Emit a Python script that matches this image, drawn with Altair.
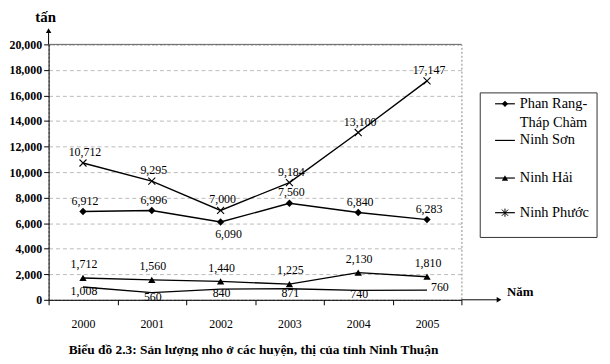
import altair as alt
import pandas as pd

years = ["2000", "2001", "2002", "2003", "2004", "2005"]
series_names = ["Phan Rang-Tháp Chàm", "Ninh Sơn", "Ninh Hải", "Ninh Phước"]
phan_rang = [6912, 6996, 6090, 7560, 6840, 6283]
ninh_son = [1008, 560, 840, 871, 740, 760]
ninh_hai = [1712, 1560, 1440, 1225, 2130, 1810]
ninh_phuoc = [10712, 9295, 7000, 9184, 13100, 17147]
y_ticks = list(range(0, 20001, 2000))
y_max = [20000]

rows = []
for name, vals in zip(series_names, [phan_rang, ninh_son, ninh_hai, ninh_phuoc]):
    for yr, v in zip(years, vals):
        rows.append({"year": yr, "series": name, "value": v})
df = pd.DataFrame(rows)

FONT = "Liberation Serif"
W, H = 417, 258

xenc = alt.X("year:O", bandPosition=0.5,
             scale=alt.Scale(type="band", paddingInner=0, paddingOuter=0, domain=years),
             axis=alt.Axis(title=None, tickBand="extent", tickSize=5, labelPadding=14,
                           labelFont=FONT, labelFontSize=12, labelAngle=0,
                           domainColor="black", tickColor="black", labelColor="black", grid=False))
yenc = alt.Y("value:Q", scale=alt.Scale(domain=[0, 20000], nice=False),
             axis=alt.Axis(title=None, values=y_ticks, format=",d", tickSize=5,
                           labelFont=FONT, labelFontSize=12, labelFontWeight="bold",
                           labelColor="black", domainColor="black", tickColor="black",
                           labelOverlap=False,
                           grid=True, gridColor="#aaaaaa", gridDash=[4, 3], gridWidth=0.8))

base = alt.Chart(df)

lines = base.mark_line(color="black", strokeWidth=1.4).encode(
    x=xenc, y=yenc, detail="series:N")

pts_pr = base.transform_filter(alt.datum.series == "Phan Rang-Tháp Chàm").mark_point(
    shape="diamond", filled=True, color="black", size=55, opacity=1).encode(x=xenc, y=yenc)
pts_nh = base.transform_filter(alt.datum.series == "Ninh Hải").mark_point(
    shape="triangle-up", filled=True, color="black", size=55, opacity=1).encode(x=xenc, y=yenc)
pts_np = base.transform_filter(alt.datum.series == "Ninh Phước").mark_point(
    shape="M-1,-1L1,1M-1,1L1,-1", filled=False, color="black", size=50, strokeWidth=1.1,
    opacity=1).encode(x=xenc, y=yenc)

def labels(filt, dx=0, dy=-10):
    return base.transform_filter(filt).mark_text(
        font=FONT, fontSize=12, color="black", dx=dx, dy=dy).encode(
        x=xenc, y=yenc, text=alt.Text("value:Q", format=","))

lab_np = labels("datum.series == 'Ninh Phước'", dx=2, dy=-11)
lab_pr = labels("datum.series == 'Phan Rang-Tháp Chàm' && datum.year != '2002'", dx=2, dy=-11)
lab_pr2 = labels("datum.series == 'Phan Rang-Tháp Chàm' && datum.year == '2002'", dx=8, dy=12)
lab_nh = labels("datum.series == 'Ninh Hải'", dx=1, dy=-14)
lab_ns = labels("datum.series == 'Ninh Sơn' && datum.year != '2005'", dx=1, dy=4)
lab_ns2 = labels("datum.series == 'Ninh Sơn' && datum.year == '2005'", dx=13, dy=-3)

top_rule = alt.Chart(pd.DataFrame({"value": y_max})).mark_rule(color="#666", strokeWidth=1).encode(
    y=yenc)

one = pd.DataFrame({"a": [0]})
# axis arrows
y_arrow = alt.Chart(one).mark_rule(color="black").encode(
    x=alt.value(0), y=alt.value(0), y2=alt.value(-14))
y_head = alt.Chart(one).mark_point(shape="triangle-up", filled=True, color="black", size=30,
                                   opacity=1).encode(x=alt.value(0), y=alt.value(-14))
x_arrow = alt.Chart(one).mark_rule(color="black").encode(
    x=alt.value(W), x2=alt.value(455), y=alt.value(H))
x_head = alt.Chart(one).mark_point(shape="triangle-right", filled=True, color="black", size=30,
                                   opacity=1).encode(x=alt.value(455), y=alt.value(H))
y_title = alt.Chart(one).mark_text(text="tấn", font=FONT, fontSize=15, fontWeight="bold",
                                   color="black").encode(x=alt.value(-3), y=alt.value(-28))
x_title = alt.Chart(one).mark_text(text="Năm", font=FONT, fontSize=13, fontWeight="bold",
                                   color="black", align="left").encode(x=alt.value(463), y=alt.value(250))
caption = alt.Chart(one).mark_text(
    text="Biểu đồ 2.3: Sản lượng nho ở các huyện, thị của tỉnh Ninh Thuận",
    font=FONT, fontSize=13.5, fontWeight="bold", color="black").encode(
    x=alt.value(207), y=alt.value(309))

# legend
leg_box = alt.Chart(one).mark_rect(fill="white", stroke="#333", strokeWidth=1).encode(
    x=alt.value(436), x2=alt.value(554), y=alt.value(49), y2=alt.value(195))
leg_layers = [leg_box]
leg_y = [60, 97, 135, 170]
leg_shapes = ["diamond", None, "triangle-up", "M-1,-1L1,1M-1,1L1,-1M0,-1.3L0,1.3"]
for yy, shp in zip(leg_y, leg_shapes):
    leg_layers.append(alt.Chart(one).mark_rule(color="black", strokeWidth=1.2).encode(
        x=alt.value(451), x2=alt.value(471), y=alt.value(yy)))
    if shp is not None:
        filled = shp in ("diamond", "triangle-up")
        leg_layers.append(alt.Chart(one).mark_point(
            shape=shp, filled=filled, color="black", size=40, opacity=1, strokeWidth=1).encode(
            x=alt.value(461), y=alt.value(yy)))
leg_texts = [("Phan Rang-", 60), ("Tháp Chàm", 79), ("Ninh Sơn", 97), ("Ninh Hải", 135), ("Ninh Phước", 170)]
for t, yy in leg_texts:
    leg_layers.append(alt.Chart(one).mark_text(
        text=t, font=FONT, fontSize=14.5, color="black", align="left").encode(
        x=alt.value(476), y=alt.value(yy)))

chart = alt.layer(
    top_rule, lines, pts_pr, pts_nh, pts_np,
    lab_np, lab_pr, lab_pr2, lab_nh, lab_ns, lab_ns2,
    y_arrow, y_head, x_arrow, x_head, y_title, x_title, caption, *leg_layers
).properties(
    width=W, height=H,
    autosize=alt.AutoSizeParams(type="none"),
    padding={"left": 41, "top": 35, "right": 142, "bottom": 55},
    background="white",
).configure_view(stroke="#888", strokeDash=[2, 2], strokeWidth=1)

chart.save("out.html", embed_options={"renderer": "svg", "actions": False})
